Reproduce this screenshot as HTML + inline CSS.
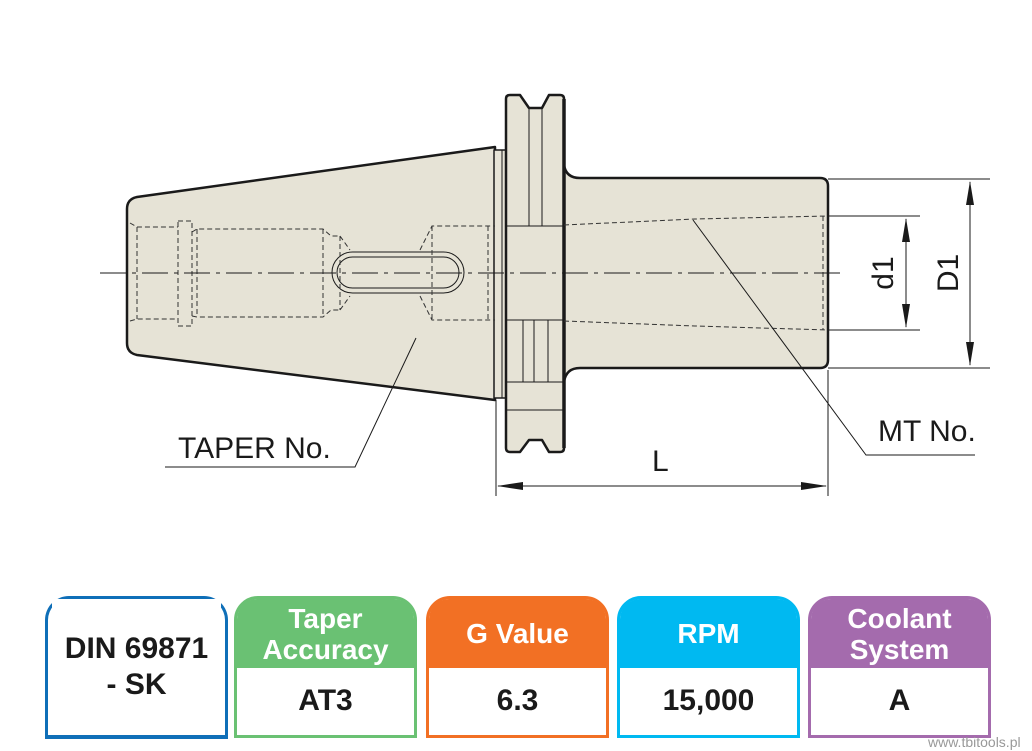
<!DOCTYPE html>
<html><head><style>
body{margin:0;background:#fff;width:1032px;height:751px;position:relative;overflow:hidden;font-family:"Liberation Sans",sans-serif}
.box{position:absolute;top:596px;width:177px;height:136px;border:3px solid;border-radius:24px 24px 0 0;background:#fff;box-sizing:content-box}
.hd{position:absolute;left:0;top:0;right:0;height:69px;color:#fff;font-weight:bold;font-size:28px;line-height:31px;text-align:center;display:flex;align-items:center;justify-content:center;border-radius:20px 20px 0 0}
.vl{position:absolute;left:4px;right:4px;top:72px;bottom:4px;background:#fff;display:flex;align-items:center;justify-content:center;font-weight:bold;font-size:30px;color:#1a1a1a;text-align:center}
</style></head><body>
<svg width="1032" height="560" style="position:absolute;left:0;top:0" font-family="Liberation Sans, sans-serif">
<g fill="#e6e3d6" stroke="#1a1a1a" stroke-width="2.5" stroke-linejoin="round">
<path d="M137,197 L495,147 L495,400 L137,355 Q127,353 127,343 L127,209 Q127,199 137,197 Z"/>
<rect x="494" y="150" width="12" height="248" stroke-width="1.5"/>
<path d="M564,165 Q566,178 580,178 L820,178 Q828,178 828,186 L828,360 Q828,368 820,368 L580,368 Q566,368 564,382 Z"/>
<path d="M510,95 L520,95 L529,108 L542,108 L549,95 L560,95 Q564,95 564,99 L564,448 Q564,452 560,452 L549,452 L542,440 L529,440 L520,452 L510,452 Q506,452 506,448 L506,99 Q506,95 510,95 Z"/>
</g>
<line x1="564" y1="99" x2="564" y2="448" stroke="#1a1a1a" stroke-width="3.5"/>
<g stroke="#1a1a1a" stroke-width="1" fill="none">
<line x1="502" y1="150" x2="502" y2="398"/>
<line x1="529" y1="108" x2="529" y2="226"/><line x1="542" y1="108" x2="542" y2="226"/>
<line x1="534" y1="320" x2="534" y2="382"/><line x1="548" y1="320" x2="548" y2="382"/><line x1="523" y1="320" x2="523" y2="382"/>
<line x1="506" y1="382" x2="564" y2="382"/><line x1="506" y1="410" x2="564" y2="410"/>
<line x1="506" y1="226" x2="564" y2="226"/><line x1="506" y1="320" x2="564" y2="320"/>
<rect x="332" y="252" width="132" height="41" rx="20.5"/>
<rect x="337" y="257" width="122" height="31" rx="15.5"/>
</g>
<g stroke="#333" stroke-width="1" fill="none" stroke-dasharray="5,3">
<path d="M130,223 L137,227 L178,227 M130,321 L137,319 L178,319 M137,227 L137,319"/>
<rect x="178" y="221" width="14" height="105"/>
<path d="M192,232 L197,229 L323,229 L331,236 L340,236 M192,316 L197,317 L323,317 L331,310 L340,310 M197,229 L197,317 M323,229 L323,317 M340,236 L350,250 M340,310 L350,296 M340,236 L340,310"/>
<path d="M420,250 L432,226 L495,226 M420,296 L432,320 L495,320 M432,226 L432,320 M488,226 L488,320"/>
<path d="M564,225 L695,219 L828,216 M564,321 L695,326 L828,330 M823,216 L823,330"/>
</g>
<line x1="100" y1="273" x2="845" y2="273" stroke="#1a1a1a" stroke-width="1" stroke-dasharray="26,6,4,6"/>
<g stroke="#1a1a1a" stroke-width="1" fill="none">
<line x1="828" y1="179" x2="990" y2="179"/><line x1="828" y1="368" x2="990" y2="368"/>
<line x1="970" y1="182" x2="970" y2="365"/>
<line x1="828" y1="216" x2="920" y2="216"/><line x1="828" y1="330" x2="920" y2="330"/>
<line x1="906" y1="219" x2="906" y2="327"/>
<line x1="496" y1="400" x2="496" y2="496"/><line x1="828" y1="370" x2="828" y2="496"/>
<line x1="498" y1="486" x2="826" y2="486"/>
<polyline points="693,220 866,455 975,455"/>
<polyline points="416,338 355,467 165,467"/>
</g>
<g fill="#1a1a1a">
<path d="M970,181 L966,205 L974,205 Z"/><path d="M970,366 L966,342 L974,342 Z"/>
<path d="M906,218 L902,242 L910,242 Z"/><path d="M906,328 L902,304 L910,304 Z"/>
<path d="M497,486 L523,482 L523,490 Z"/><path d="M827,486 L801,482 L801,490 Z"/>
</g>
<g fill="#1a1a1a" font-size="30">
<text x="178" y="458">TAPER No.</text>
<text x="878" y="441">MT No.</text>
<text x="652" y="471">L</text>
<text transform="translate(893,273) rotate(-90)" text-anchor="middle">d1</text>
<text transform="translate(958,273) rotate(-90)" text-anchor="middle">D1</text>
</g>
</svg>
<div class="box" style="left:45px;border-color:#0f6fb8;border-bottom-width:4px"><div class="vl" style="top:0;flex-direction:column;font-size:30px;line-height:36px;padding-top:4px">DIN 69871<br>- SK</div></div>
<div class="box" style="left:234px;border-color:#6ac173"><div class="hd" style="background:#6ac173">Taper<br>Accuracy</div><div class="vl">AT3</div></div>
<div class="box" style="left:426px;border-color:#f27024"><div class="hd" style="background:#f27024">G Value</div><div class="vl">6.3</div></div>
<div class="box" style="left:617px;border-color:#00b9f1"><div class="hd" style="background:#00b9f1">RPM</div><div class="vl">15,000</div></div>
<div class="box" style="left:808px;border-color:#a46bad"><div class="hd" style="background:#a46bad">Coolant<br>System</div><div class="vl">A</div></div>
<div style="position:absolute;left:928px;top:734px;font-size:14px;color:#999">www.tbitools.pl</div>
</body></html>
